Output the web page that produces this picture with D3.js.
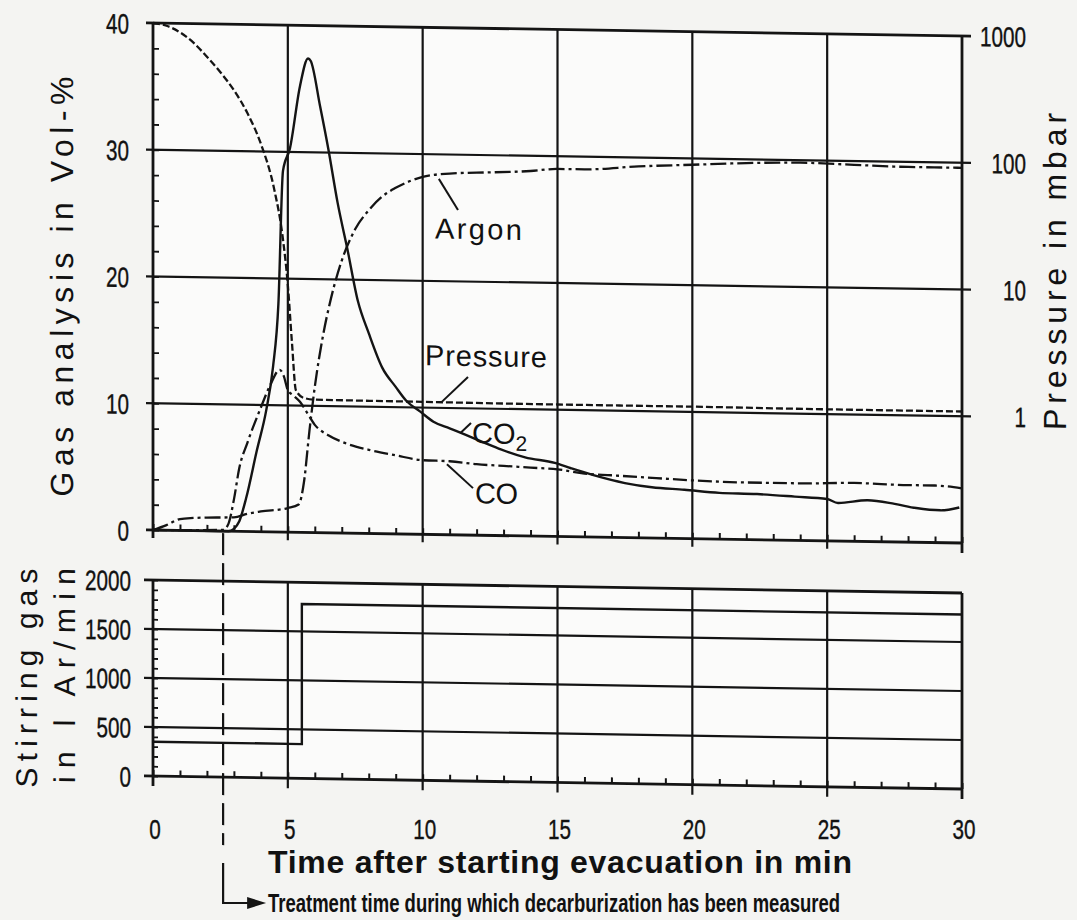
<!DOCTYPE html>
<html>
<head>
<meta charset="utf-8">
<script src="https://cdn.jsdelivr.net/npm/d3@7"></script>
<style>
  body { margin: 0; background: #f4f4f2; }
  svg { display: block; }
  .num { font-family: "Liberation Sans", Arial, sans-serif; font-size: 28px; fill: #111; stroke: #111; stroke-width: 0.4px; }
  .ttl { font-family: "Liberation Sans", Arial, sans-serif; fill: #111; }
</style>
</head>
<body>
<svg id="svg1" width="1077" height="920"></svg>
<script>
// tick values
var timeTicks = [0, 5, 10, 15, 20, 25, 30];
var gasTicks = [0, 10, 20, 30, 40];
var pressTicks = [1, 10, 100, 1000];
var stirTicks = [0, 500, 1000, 1500, 2000];

// CO2 in Vol-% (solid)
var co2Time = [0, 2.8, 3.0, 3.2, 3.45, 3.85, 4.2, 4.45, 4.65, 4.82, 5.08, 5.45, 5.75, 5.85, 6.2, 6.5, 6.85, 7.2, 7.6, 8.0, 8.5, 9.0, 9.4, 9.9, 10.4, 11.0, 11.6, 12.3, 12.9, 13.8, 14.9, 15.5, 16.3, 17.5, 18.5, 19.7, 21, 22.4, 23.8, 25, 25.4, 26.5, 27.5, 28.3, 29.2, 29.9];
var co2Val  = [0, 0, 0.2, 0.8, 2.6, 6.4, 9.6, 13, 18, 28.5, 30.3, 35.2, 37.4, 37.2, 33.6, 30.3, 26, 22.5, 18.3, 15.8, 13.1, 11.6, 10.5, 9.7, 8.9, 8.4, 7.9, 7.3, 6.8, 6.2, 5.8, 5.4, 4.9, 4.3, 4.0, 3.85, 3.65, 3.6, 3.45, 3.3, 3.0, 3.25, 3.0, 2.7, 2.55, 2.8];

// CO in Vol-% (dash-dot)
var coTime = [0, 2.6, 2.8, 3.0, 3.2, 3.5, 4.0, 4.35, 4.7, 4.85, 5.0, 5.2, 5.45, 5.7, 6.0, 6.5, 7.0, 8.0, 9.0, 10, 11, 12, 13, 14, 15, 16, 17, 18, 20, 22, 24, 26, 28, 29, 30];
var coVal  = [0, 0.1, 0.6, 2.5, 5.0, 7.0, 9.8, 11.6, 12.8, 12.3, 11.2, 10.8, 10.3, 9.5, 8.5, 7.7, 7.2, 6.6, 6.2, 5.85, 5.8, 5.6, 5.5, 5.4, 5.3, 5.0, 4.9, 4.8, 4.6, 4.5, 4.5, 4.6, 4.5, 4.5, 4.3];

// Argon in Vol-% (dash-dot)
var arTime = [0, 0.5, 1.0, 1.5, 2.0, 3.0, 3.5, 4.0, 5.0, 5.4, 5.6, 5.8, 6.0, 6.3, 6.6, 7.0, 7.5, 8.0, 8.5, 9.0, 10, 11, 12, 14, 15, 16, 18, 20, 22, 24, 26, 28, 30];
var arVal  = [0, 0.4, 0.9, 1.0, 1.05, 1.1, 1.4, 1.6, 1.9, 2.2, 4, 8, 11.5, 15.5, 18.5, 21.5, 24, 25.5, 26.6, 27.3, 28.2, 28.5, 28.6, 28.8, 29.0, 29.0, 29.3, 29.5, 29.7, 29.8, 29.7, 29.6, 29.6];

// Pressure in mbar (dashed, log axis)
var presTime = [0, 0.5, 1.0, 1.5, 2.0, 2.5, 3.0, 3.5, 4.0, 4.5, 4.8, 5.0, 5.15, 5.3, 5.6, 6, 10, 15, 20, 25, 30];
var presVal  = [1000, 955, 851, 708, 550, 417, 302, 200, 115, 50, 22, 8.9, 3.2, 1.32, 1.15, 1.12, 1.11, 1.1, 1.1, 1.09, 1.09];

// stirring gas in l Ar/min
var stirTime = [0, 5.52, 30];
var stirVal  = [350, 1780, 1780];

var treatStart = 2.6;

var ink = "#141414";
var svg = d3.select("#svg1");

// scanned page is slightly sheared: horizontal lines drop to the right
var g = svg.append("g")
    .attr("transform", "translate(153,0) skewY(0.92) translate(-153,0)");

var x = d3.scaleLinear().domain([0, 30]).range([153, 962]);
var yGas = d3.scaleLinear().domain([0, 40]).range([530, 23]);
var yPres = d3.scaleLog().domain([0.1, 1000]).range([530, 23]);
var yStir = d3.scaleLinear().domain([0, 2000]).range([776, 580]);

// narrow digits like the typewriter labels of the scan
function numLabel(sel) {
  sel.attr("class", "num")
     .attr("lengthAdjust", "spacingAndGlyphs")
     .attr("textLength", function(d) { return String(d).length * 11.5; })
     .text(function(d) { return d; });
}

// panel backgrounds
g.append("rect").attr("x", x(0)).attr("y", yGas(40)).attr("width", x(30) - x(0)).attr("height", yGas(0) - yGas(40)).attr("fill", "#fbfbfa");
g.append("rect").attr("x", x(0)).attr("y", yStir(2000)).attr("width", x(30) - x(0)).attr("height", yStir(0) - yStir(2000)).attr("fill", "#fbfbfa");

// ---------- top panel grid ----------
g.selectAll(".hgrid").data(gasTicks).enter().append("line")
    .attr("x1", x(0) - 7).attr("x2", function(d) { return d == 0 ? x(30) : x(30) + 9; })
    .attr("y1", function(d) { return yGas(d); }).attr("y2", function(d) { return yGas(d); })
    .attr("stroke", ink).attr("stroke-width", function(d) { return (d == 0 || d == 40) ? 2.8 : 2.2; });

g.selectAll(".vgrid").data(timeTicks).enter().append("line")
    .attr("x1", function(d) { return x(d); }).attr("x2", function(d) { return x(d); })
    .attr("y1", yGas(40)).attr("y2", function(d) { return d == 30 ? yGas(0) + 10 : yGas(0) + 8; })
    .attr("stroke", ink).attr("stroke-width", function(d) { return (d == 0 || d == 30) ? 2.8 : 2.2; });

// minor ticks
g.append("g").attr("transform", "translate(" + x(0) + ",0)")
    .call(d3.axisLeft(yGas).tickValues(d3.range(0, 41, 2)).tickSize(-6).tickFormat(""))
    .call(function(a) { a.select(".domain").remove(); a.selectAll("line").attr("stroke", ink).attr("stroke-width", 1.8); });
g.append("g").attr("transform", "translate(0," + yGas(0) + ")")
    .call(d3.axisBottom(x).tickValues(d3.range(0, 31, 1)).tickSize(-6).tickFormat(""))
    .call(function(a) { a.select(".domain").remove(); a.selectAll("line").attr("stroke", ink).attr("stroke-width", 2); });

// left labels
g.selectAll(".gasLab").data(gasTicks).enter().append("text")
    .attr("text-anchor", "end")
    .attr("x", 129).attr("y", function(d) { return yGas(d) + 11; })
    .call(numLabel);

// right labels (log)
g.selectAll(".presLab").data(pressTicks).enter().append("text")
    .attr("text-anchor", "end")
    .attr("x", 1026).attr("y", function(d) { return yPres(d) + 10; })
    .call(numLabel);

// ---------- curves ----------
function pairs(t, v) { return t.map(function(d, i) { return [d, v[i]]; }); }

var lineGas = d3.line().x(function(d) { return x(d[0]); }).y(function(d) { return yGas(d[1]); }).curve(d3.curveMonotoneX);
var linePres = d3.line().x(function(d) { return x(d[0]); }).y(function(d) { return yPres(d[1]); }).curve(d3.curveMonotoneX);

g.append("path").datum(pairs(presTime, presVal)).attr("d", linePres)
    .attr("fill", "none").attr("stroke", ink).attr("stroke-width", 2.3).attr("stroke-dasharray", "7,3");
g.append("path").datum(pairs(arTime, arVal)).attr("d", lineGas)
    .attr("fill", "none").attr("stroke", ink).attr("stroke-width", 2.3).attr("stroke-dasharray", "16,4,3,4");
g.append("path").datum(pairs(coTime, coVal)).attr("d", lineGas)
    .attr("fill", "none").attr("stroke", ink).attr("stroke-width", 2.3).attr("stroke-dasharray", "14,4,3,4");
g.append("path").datum(pairs(co2Time, co2Val)).attr("d", lineGas)
    .attr("fill", "none").attr("stroke", ink).attr("stroke-width", 2.4);

// curve labels with leaders
var lab = g.append("g").attr("class", "ttl").attr("font-size", 29);
lab.append("text").attr("x", 435).attr("y", 234).attr("textLength", 87).text("Argon");
lab.append("line").attr("x1", x(10.6)).attr("y1", yGas(28.3) + 3).attr("x2", 458).attr("y2", 205).attr("stroke", ink).attr("stroke-width", 2);
lab.append("text").attr("x", 425).attr("y", 361).attr("textLength", 122).text("Pressure");
lab.append("line").attr("x1", 468).attr("y1", 372).attr("x2", x(10.7)).attr("y2", yPres(1.11)).attr("stroke", ink).attr("stroke-width", 2);
var co2Lab = lab.append("text").attr("x", 472).attr("y", 438);
co2Lab.append("tspan").text("CO");
co2Lab.append("tspan").attr("font-size", 21).attr("dy", 7).text("2");
lab.append("line").attr("x1", x(11.4)).attr("y1", yGas(8.05)).attr("x2", 471).attr("y2", 418).attr("stroke", ink).attr("stroke-width", 2);
lab.append("text").attr("x", 475).attr("y", 498).attr("textLength", 43).text("CO");
lab.append("line").attr("x1", x(10.9)).attr("y1", yGas(5.8) + 3).attr("x2", 473).attr("y2", 483).attr("stroke", ink).attr("stroke-width", 2);

// ---------- bottom panel ----------
g.selectAll(".shgrid").data(stirTicks).enter().append("line")
    .attr("x1", x(0) - 9).attr("x2", x(30))
    .attr("y1", function(d) { return yStir(d); }).attr("y2", function(d) { return yStir(d); })
    .attr("stroke", ink).attr("stroke-width", function(d) { return (d == 0 || d == 2000) ? 2.8 : 2.2; });

g.selectAll(".svgrid").data(timeTicks).enter().append("line")
    .attr("x1", function(d) { return x(d); }).attr("x2", function(d) { return x(d); })
    .attr("y1", yStir(2000)).attr("y2", yStir(0) + 10)
    .attr("stroke", ink).attr("stroke-width", function(d) { return (d == 0 || d == 30) ? 2.8 : 2.2; });

g.append("g").attr("transform", "translate(" + x(0) + ",0)")
    .call(d3.axisLeft(yStir).tickValues(d3.range(0, 2001, 100)).tickSize(-5).tickFormat(""))
    .call(function(a) { a.select(".domain").remove(); a.selectAll("line").attr("stroke", ink).attr("stroke-width", 1.8); });
g.append("g").attr("transform", "translate(0," + yStir(0) + ")")
    .call(d3.axisBottom(x).tickValues(d3.range(0, 31, 1)).tickSize(-6).tickFormat(""))
    .call(function(a) { a.select(".domain").remove(); a.selectAll("line").attr("stroke", ink).attr("stroke-width", 2); });

g.selectAll(".stirLab").data(stirTicks).enter().append("text")
    .attr("text-anchor", "end")
    .attr("x", 131).attr("y", function(d) { return yStir(d) + 11; })
    .call(numLabel);

g.append("path").datum(pairs(stirTime, stirVal))
    .attr("d", d3.line().x(function(d) { return x(d[0]); }).y(function(d) { return yStir(d[1]); }).curve(d3.curveStepAfter))
    .attr("fill", "none").attr("stroke", ink).attr("stroke-width", 2.4);

// treatment marker (dashed part through both panels)
g.append("line").attr("x1", x(treatStart)).attr("x2", x(treatStart))
    .attr("y1", yGas(0) + 2).attr("y2", 844)
    .attr("stroke", ink).attr("stroke-width", 2.2).attr("stroke-dasharray", "22,8");

// ---------- titles ----------
g.append("text").attr("class", "ttl").attr("font-size", 32).attr("text-anchor", "middle")
    .attr("transform", "translate(73,288) rotate(-90)").attr("textLength", 420)
    .text("Gas analysis in Vol-%");
g.append("text").attr("class", "ttl").attr("font-size", 32).attr("text-anchor", "middle")
    .attr("transform", "translate(1066,257) rotate(-90)").attr("textLength", 317)
    .text("Pressure in mbar");
g.append("text").attr("class", "ttl").attr("font-size", 30).attr("text-anchor", "middle")
    .attr("transform", "translate(37,680) rotate(-90)").attr("textLength", 219)
    .text("Stirring gas");
g.append("text").attr("class", "ttl").attr("font-size", 30).attr("text-anchor", "middle")
    .attr("transform", "translate(75,677) rotate(-90)").attr("textLength", 215)
    .text("in l Ar/min");

// the lines under the plot are level in the scan
svg.selectAll(".timeLab").data(timeTicks).enter().append("text")
    .attr("text-anchor", "middle")
    .attr("x", function(d) { return x(d) + 2; }).attr("y", 839)
    .call(numLabel);

svg.append("path")
    .attr("d", "M" + x(treatStart) + ",863 V903 H" + (x(treatStart) + 28))
    .attr("fill", "none").attr("stroke", ink).attr("stroke-width", 2.2);
svg.append("path")
    .attr("d", "M" + (x(treatStart) + 24) + ",897 L" + (x(treatStart) + 43) + ",903 L" + (x(treatStart) + 24) + ",909 Z")
    .attr("fill", ink);

svg.append("text").attr("class", "ttl").attr("font-size", 32).attr("font-weight", "bold")
    .attr("x", 268).attr("y", 873).attr("textLength", 584)
    .text("Time after starting evacuation in min");
svg.append("text").attr("class", "ttl").attr("font-size", 25).attr("font-weight", "bold")
    .attr("x", 268).attr("y", 912).attr("textLength", 572).attr("lengthAdjust", "spacingAndGlyphs")
    .text("Treatment time during which decarburization has been measured");
</script>
</body>
</html>
